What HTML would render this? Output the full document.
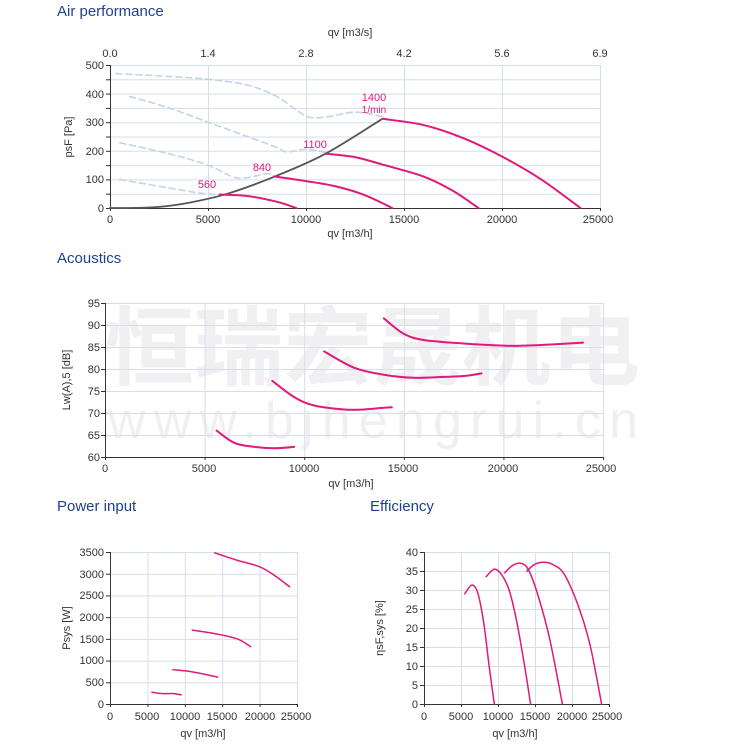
<!DOCTYPE html>
<html><head><meta charset="utf-8"><style>
body{margin:0;background:#fff;width:750px;height:750px;overflow:hidden;position:relative;font-family:"Liberation Sans",Arial,sans-serif}
.t{position:absolute;color:#1f3f94;font-size:15px}
svg{position:absolute;left:0;top:0}
</style></head><body>
<div class="t" style="left:57px;top:3px">Air performance</div>
<div class="t" style="left:57px;top:250px">Acoustics</div>
<div class="t" style="left:57px;top:498px">Power input</div>
<div class="t" style="left:370px;top:498px">Efficiency</div>
<svg width="750" height="750" xmlns="http://www.w3.org/2000/svg" font-family="Liberation Sans, Arial, sans-serif" font-size="11" fill="#333">
<g id="wm" fill="#f0f0f2" font-family="Liberation Sans, Noto Sans CJK SC, sans-serif">
<text x="105" y="378" font-size="86" font-weight="bold" textLength="535" lengthAdjust="spacingAndGlyphs">恒瑞宏晟机电</text>
<text x="108" y="438" font-size="52" textLength="530" lengthAdjust="spacing">www.bjhengrui.cn</text>
</g>
<g id="grid" stroke="#d5dfea" stroke-width="1" fill="none"></g>
<g id="axes" stroke="#333" stroke-width="1" fill="none"></g>
<g id="curves" fill="none"></g>
<g text-anchor="end">
<text x="104" y="69">500</text><text x="104" y="98">400</text><text x="104" y="126">300</text><text x="104" y="155">200</text><text x="104" y="183">100</text><text x="104" y="212">0</text>
</g>
<g text-anchor="middle">
<text x="110" y="223">0</text><text x="208" y="223">5000</text><text x="306" y="223">10000</text><text x="404" y="223">15000</text><text x="502" y="223">20000</text><text x="598" y="223">25000</text>
<text x="350" y="237">qv [m3/h]</text>
<text x="110" y="57">0.0</text><text x="208" y="57">1.4</text><text x="306" y="57">2.8</text><text x="404" y="57">4.2</text><text x="502" y="57">5.6</text><text x="600" y="57">6.9</text>
<text x="350" y="36">qv [m3/s]</text>
</g>
<text transform="translate(72,137) rotate(-90)" text-anchor="middle">psF [Pa]</text>
<g fill="#e0197a" font-size="11" text-anchor="middle">
<text x="374" y="101">1400</text><text x="374" y="113" font-size="10">1/min</text>
<text x="315" y="148">1100</text><text x="262" y="171">840</text><text x="207" y="188">560</text>
</g>
<g text-anchor="end">
<text x="100" y="307">95</text><text x="100" y="329">90</text><text x="100" y="351">85</text><text x="100" y="373">80</text><text x="100" y="395">75</text><text x="100" y="417">70</text><text x="100" y="439">65</text><text x="100" y="461">60</text>
</g>
<g text-anchor="middle">
<text x="105" y="472">0</text><text x="204" y="472">5000</text><text x="304" y="472">10000</text><text x="403" y="472">15000</text><text x="503" y="472">20000</text><text x="601" y="472">25000</text>
<text x="351" y="487">qv [m3/h]</text>
</g>
<text transform="translate(70,380) rotate(-90)" text-anchor="middle">Lw(A),5 [dB]</text>
<g text-anchor="end">
<text x="104" y="556">3500</text><text x="104" y="578">3000</text><text x="104" y="599">2500</text><text x="104" y="621">2000</text><text x="104" y="643">1500</text><text x="104" y="664">1000</text><text x="104" y="686">500</text><text x="104" y="708">0</text>
</g>
<g text-anchor="middle">
<text x="110" y="720">0</text><text x="147" y="720">5000</text><text x="185" y="720">10000</text><text x="222" y="720">15000</text><text x="260" y="720">20000</text><text x="296" y="720">25000</text>
<text x="203" y="737">qv [m3/h]</text>
</g>
<text transform="translate(70,628) rotate(-90)" text-anchor="middle">Psys [W]</text>
<g text-anchor="end">
<text x="418" y="556">40</text><text x="418" y="575">35</text><text x="418" y="594">30</text><text x="418" y="613">25</text><text x="418" y="632">20</text><text x="418" y="651">15</text><text x="418" y="670">10</text><text x="418" y="689">5</text><text x="418" y="708">0</text>
</g>
<g text-anchor="middle">
<text x="424" y="720">0</text><text x="461" y="720">5000</text><text x="498" y="720">10000</text><text x="535" y="720">15000</text><text x="572" y="720">20000</text><text x="607" y="720">25000</text>
<text x="515" y="737">qv [m3/h]</text>
</g>
<text transform="translate(383,628) rotate(-90)" text-anchor="middle">ηsF,sys [%]</text>
</svg>
<script>
var NS="http://www.w3.org/2000/svg";
function el(g,t,a){var e=document.createElementNS(NS,t);for(var k in a)e.setAttribute(k,a[k]);document.getElementById(g).appendChild(e);return e;}
var charts={
air:{x0:110,x1:600,y0:208,y1:65,ymax:500,ystep:50,xmax:25000},
ac:{x0:105,x1:603,y0:457,y1:303,ymin:60,ymax:95,ystep:5,xmax:25000},
pw:{x0:110,x1:297,y0:704,y1:552,ymax:3500,ystep:500,xmax:25000},
ef:{x0:424,x1:609,y0:704,y1:552,ymax:40,ystep:5,xmax:25000}
};
function X(c,v){return c.x0+(c.x1-c.x0)*v/c.xmax}
function Y(c,v){var mn=c.ymin||0;return c.y0-(c.y0-c.y1)*(v-mn)/(c.ymax-mn)}
for(var k in charts){var c=charts[k],mn=c.ymin||0;
 for(var v=mn;v<=c.ymax+1e-9;v+=c.ystep){var y=Y(c,v)+0.5;el('grid','line',{x1:c.x0,x2:c.x1,y1:y,y2:y});el('axes','line',{x1:c.x0-4,x2:c.x0,y1:y,y2:y});}
 for(var v=5000;v<=25000;v+=5000){var x=X(c,v)+0.5;el('grid','line',{x1:x,x2:x,y1:c.y1,y2:c.y0});el('axes','line',{x1:x,x2:x,y1:c.y0,y2:c.y0+3});}
 el('axes','line',{x1:c.x0+0.5,x2:c.x0+0.5,y1:c.y1,y2:c.y0+3});
 el('axes','line',{x1:c.x0,x2:c.x1,y1:c.y0+0.5,y2:c.y0+0.5});
}
function path(c,pts){var p=pts.map(function(q){return [X(c,q[0]),Y(c,q[1])]});
 var d="M"+p[0][0]+","+p[0][1];
 for(var i=0;i<p.length-1;i++){var a=p[i-1]||p[i],b=p[i],e=p[i+1],f=p[i+2]||e;
  d+=" C"+(b[0]+(e[0]-a[0])/6)+","+(b[1]+(e[1]-a[1])/6)+" "+(e[0]-(f[0]-b[0])/6)+","+(e[1]-(f[1]-b[1])/6)+" "+e[0]+","+e[1];}
 return d;}
function L(c,pts,col,w,dash){var a={d:path(charts[c],pts),stroke:col,"stroke-width":w,"stroke-linecap":"round"};if(dash)a["stroke-dasharray"]=dash;el('curves','path',a);}
var M="#e0197a",B="#c5d3e6";
L('air',[[300,470],[3000,460],[5000,450],[7000,430],[8500,390],[10000,322],[11000,318],[12500,335],[14000,318]],B,1.6,"6,4");
L('air',[[1000,390],[3000,350],[5000,300],[7000,250],[8500,212],[9000,196],[10000,205],[11000,195]],B,1.6,"6,4");
L('air',[[500,228],[3000,190],[5000,150],[6500,105],[8000,120],[8400,110]],B,1.6,"6,4");
L('air',[[500,100],[3000,70],[4800,50],[5600,47]],B,1.6,"6,4");
L('air',[[0,0],[1000,0],[2500,4],[4000,18],[6000,50],[8400,110],[11000,190],[13900,312]],"#555",1.8);
L('air',[[13900,312],[16000,290],[18000,245],[20000,180],[22000,100],[24000,0]],M,2);
L('air',[[11000,190],[12500,178],[14000,150],[16000,110],[17500,60],[18800,0]],M,2);
L('air',[[8400,110],[10000,94],[11500,76],[13000,45],[14400,0]],M,2);
L('air',[[5600,47],[7000,42],[8500,22],[9500,0]],M,2);
L('ac',[[14000,91.5],[15000,88],[16000,86.6],[18000,85.8],[20000,85.3],[21000,85.3],[22500,85.6],[24000,86]],M,2);
L('ac',[[11000,84],[12500,80.3],[14000,78.7],[15500,78],[17000,78.2],[18000,78.4],[18900,79]],M,2);
L('ac',[[8400,77.3],[9500,73.6],[10500,71.7],[12000,70.8],[13000,70.8],[14000,71.2],[14400,71.3]],M,2);
L('ac',[[5600,66],[6500,63.2],[7500,62.3],[8500,62],[9500,62.3]],M,2);
L('pw',[[14000,3480],[17000,3310],[20000,3160],[22000,2960],[24000,2700]],M,1.5);
L('pw',[[11000,1700],[14000,1620],[17000,1500],[18800,1320]],M,1.5);
L('pw',[[8400,790],[11000,740],[14400,620]],M,1.5);
L('pw',[[5600,270],[7000,240],[8500,240],[9500,210]],M,1.5);
L('ef',[[5500,29],[6500,31.3],[7300,29],[8100,21],[8800,10],[9500,0]],M,1.5);
L('ef',[[8400,33.5],[9500,35.5],[10500,34],[11500,30],[12500,22],[13600,10],[14400,0]],M,1.5);
L('ef',[[10900,34.5],[12000,36.5],[13200,37],[14200,35],[15500,28],[17000,17],[18700,0]],M,1.5);
L('ef',[[13900,35],[15000,36.8],[16300,37.3],[17500,36.6],[19000,34],[21000,25],[22500,15],[24000,0]],M,1.5);
</script>
</body></html>
